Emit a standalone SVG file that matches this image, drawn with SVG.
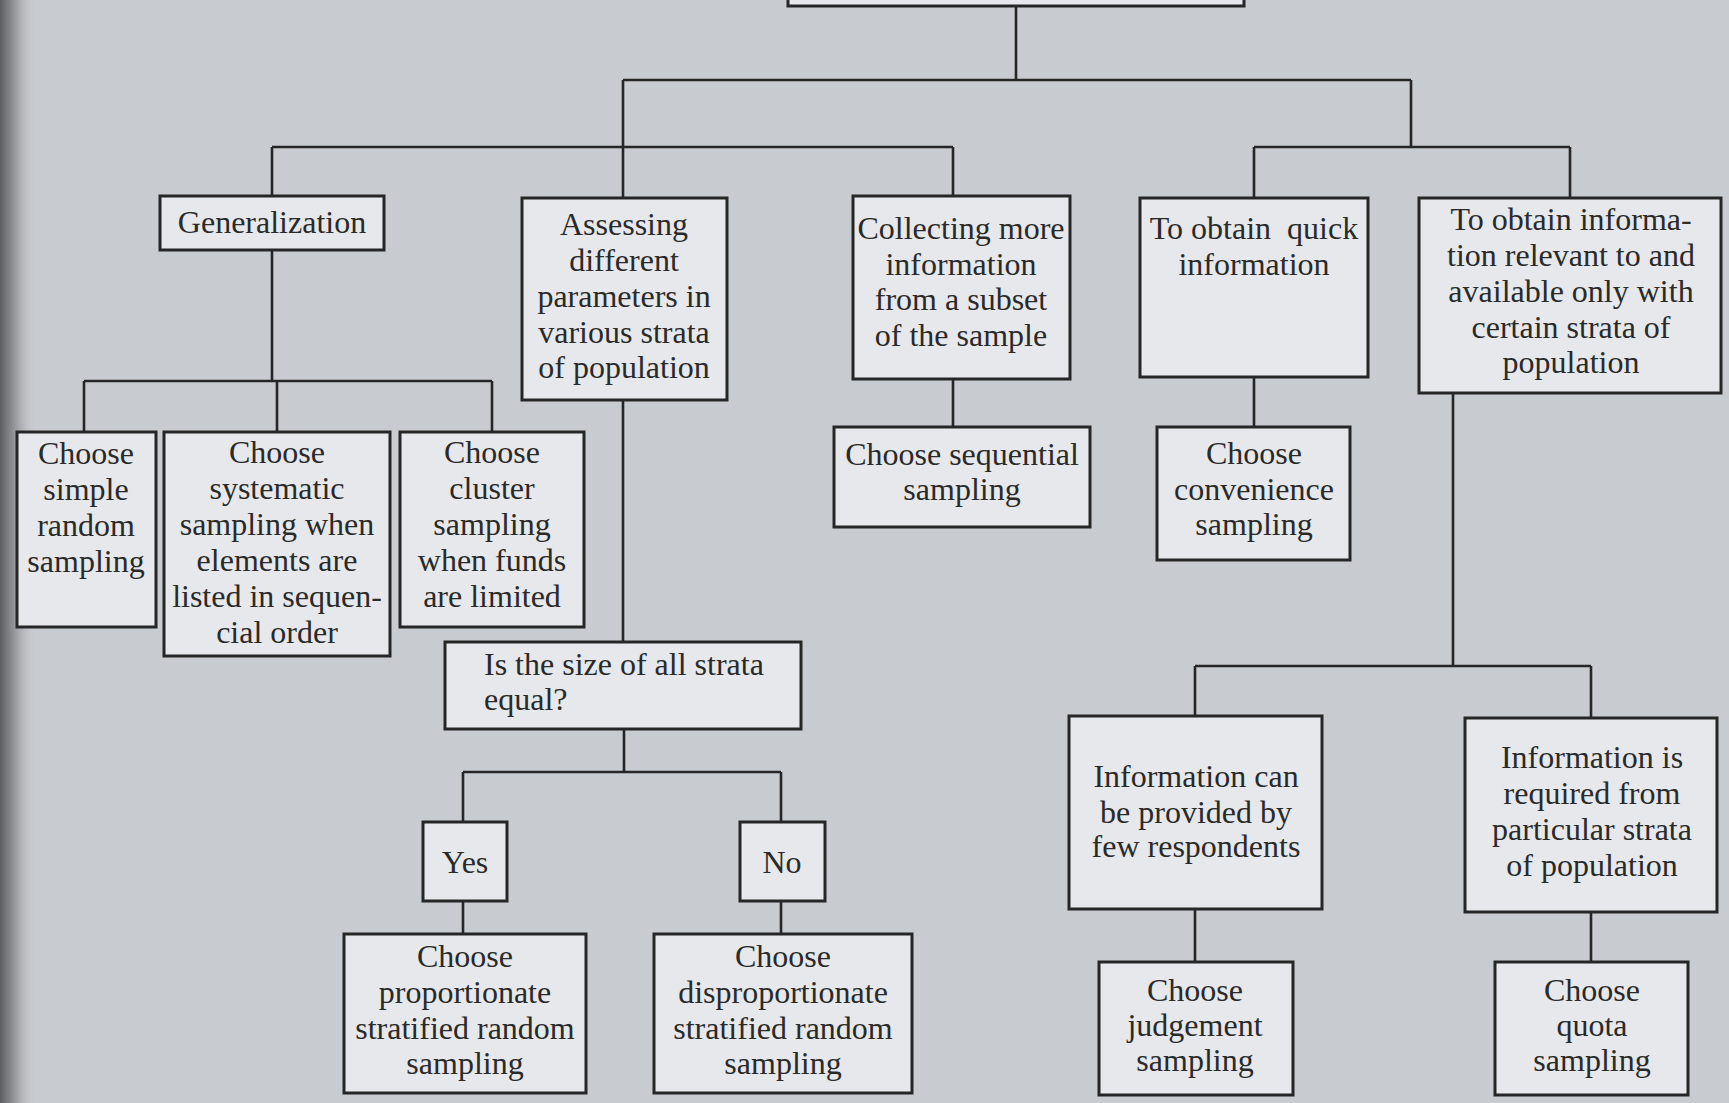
<svg xmlns="http://www.w3.org/2000/svg" width="1729" height="1103" viewBox="0 0 1729 1103">
<defs>
<linearGradient id="edge" x1="0" y1="0" x2="1" y2="0">
<stop offset="0" stop-color="#5e5f63"/>
<stop offset="0.5" stop-color="#a3a5a9"/>
<stop offset="1" stop-color="#c6c9cd" stop-opacity="0"/>
</linearGradient>
</defs>
<style>
.bx{fill:#e6e8eb;stroke:#262626;stroke-width:3}
.ln{fill:none;stroke:#262626;stroke-width:2.6}
text{font-family:"Liberation Serif","Times New Roman",serif;font-size:32px;fill:#2a2a2a;text-anchor:middle}
.l{text-anchor:start}
</style>
<rect x="0" y="0" width="1729" height="1103" fill="#c8cbcf"/>
<rect x="0" y="0" width="36" height="1103" fill="url(#edge)"/>

<g id="connectors" class="ln">
<path d="M1016 6V80M623 80H1411M623 80V147M1411 80V147"/>
<path d="M272 147H953M272 147V196M623 147V198M953 147V196"/>
<path d="M1254 147H1570M1254 147V198M1570 147V198"/>
<path d="M272 250V381M84 381H492M84 381V432M277 381V432M492 381V432"/>
<path d="M623 400V642M624 729V772M463 772H781M463 772V822M781 772V822M463 901V934M781 901V934"/>
<path d="M953 379V427M1254 377V427"/>
<path d="M1453 393V666M1195 666H1591M1195 666V716M1591 666V718M1195 909V962M1591 912V962"/>
</g>

<g id="root"><rect class="bx" x="788" y="-20" width="456" height="26"/></g>

<g id="generalization"><rect class="bx" x="160" y="196" width="224" height="54"/>
<text x="272" y="233">Generalization</text></g>

<g id="assessing"><rect class="bx" x="522" y="198" width="205" height="202"/>
<text x="624" y="235">Assessing</text><text x="624" y="271">different</text><text x="624" y="307">parameters in</text><text x="624" y="343">various strata</text><text x="624" y="378">of population</text></g>

<g id="collecting"><rect class="bx" x="853" y="196" width="217" height="183"/>
<text x="961" y="239">Collecting more</text><text x="961" y="275">information</text><text x="961" y="310">from a subset</text><text x="961" y="346">of the sample</text></g>

<g id="quick"><rect class="bx" x="1140" y="198" width="228" height="179"/>
<text x="1254" y="239" xml:space="preserve">To obtain  quick</text><text x="1254" y="275">information</text></g>

<g id="strata-info"><rect class="bx" x="1419" y="198" width="302" height="195"/>
<text x="1571" y="230">To obtain informa-</text><text x="1571" y="266">tion relevant to and</text><text x="1571" y="302">available only with</text><text x="1571" y="338">certain strata of</text><text x="1571" y="373">population</text></g>

<g id="simple"><rect class="bx" x="17" y="432" width="139" height="195"/>
<text x="86" y="464">Choose</text><text x="86" y="500">simple</text><text x="86" y="536">random</text><text x="86" y="572">sampling</text></g>

<g id="systematic"><rect class="bx" x="164" y="432" width="226" height="224"/>
<text x="277" y="463">Choose</text><text x="277" y="499">systematic</text><text x="277" y="535">sampling when</text><text x="277" y="571">elements are</text><text x="277" y="607">listed in sequen-</text><text x="277" y="643">cial order</text></g>

<g id="cluster"><rect class="bx" x="400" y="432" width="184" height="195"/>
<text x="492" y="463">Choose</text><text x="492" y="499">cluster</text><text x="492" y="535">sampling</text><text x="492" y="571">when funds</text><text x="492" y="607">are limited</text></g>

<g id="sequential"><rect class="bx" x="834" y="427" width="256" height="100"/>
<text x="962" y="465">Choose sequential</text><text x="962" y="500">sampling</text></g>

<g id="convenience"><rect class="bx" x="1157" y="427" width="193" height="133"/>
<text x="1254" y="464">Choose</text><text x="1254" y="500">convenience</text><text x="1254" y="535">sampling</text></g>

<g id="equal"><rect class="bx" x="445" y="642" width="356" height="87"/>
<text class="l" x="484" y="675">Is the size of all strata</text><text class="l" x="484" y="710">equal?</text></g>

<g id="yes"><rect class="bx" x="423" y="822" width="84" height="79"/>
<text x="465" y="873">Yes</text></g>

<g id="no"><rect class="bx" x="740" y="822" width="85" height="79"/>
<text x="782" y="873">No</text></g>

<g id="proportionate"><rect class="bx" x="344" y="934" width="242" height="159"/>
<text x="465" y="967">Choose</text><text x="465" y="1003">proportionate</text><text x="465" y="1039">stratified random</text><text x="465" y="1074">sampling</text></g>

<g id="disproportionate"><rect class="bx" x="654" y="934" width="258" height="159"/>
<text x="783" y="967">Choose</text><text x="783" y="1003">disproportionate</text><text x="783" y="1039">stratified random</text><text x="783" y="1074">sampling</text></g>

<g id="few"><rect class="bx" x="1069" y="716" width="253" height="193"/>
<text x="1196" y="787">Information can</text><text x="1196" y="823">be provided by</text><text x="1196" y="857">few respondents</text></g>

<g id="particular"><rect class="bx" x="1465" y="718" width="252" height="194"/>
<text x="1592" y="768">Information is</text><text x="1592" y="804">required from</text><text x="1592" y="840">particular strata</text><text x="1592" y="876">of population</text></g>

<g id="judgement"><rect class="bx" x="1099" y="962" width="194" height="133"/>
<text x="1195" y="1001">Choose</text><text x="1195" y="1036">judgement</text><text x="1195" y="1071">sampling</text></g>

<g id="quota"><rect class="bx" x="1495" y="962" width="193" height="133"/>
<text x="1592" y="1001">Choose</text><text x="1592" y="1036">quota</text><text x="1592" y="1071">sampling</text></g>
</svg>
